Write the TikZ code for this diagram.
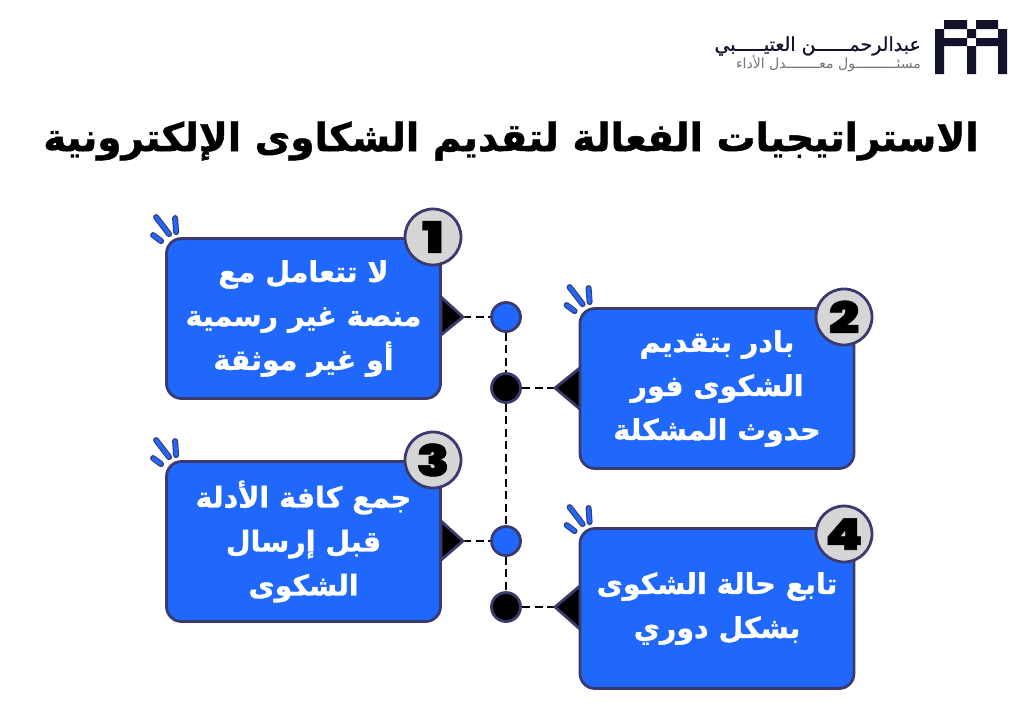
\documentclass[tikz,border=0pt]{standalone}
\usepackage{fontspec}
\usetikzlibrary{calc}
\TeXXeTstate=1
\newfontfamily\arfont[Script=Arabic]{DejaVu Sans}
\newfontfamily\arbold[Script=Arabic,FakeBold=1.2]{DejaVu Sans Bold}
\newfontfamily\arname[Script=Arabic,FakeBold=0.8]{DejaVu Sans}
\newfontfamily\numfont[FakeBold=1.2]{Poppins Black}
\newcommand{\AR}[1]{\beginR #1\endR}
\newcommand{\NUM}[1]{\scalebox{1.28}[1.04]{#1}}
\definecolor{edge}{HTML}{3B3A6E}
\definecolor{fillblue}{HTML}{1F68FB}
\definecolor{badge}{HTML}{D6D6D6}
\definecolor{ink}{HTML}{12122B}
\tikzset{
 card/.style={draw=edge,line width=2.8pt,fill=fillblue,rounded corners=15pt,minimum width=274pt,minimum height=160pt,inner sep=0pt,align=center,text=white,font=\arbold\fontsize{28.5}{44}\selectfont},
 badgenode/.style={circle,draw=edge,line width=2.8pt,fill=badge,minimum size=56pt,inner sep=0pt,text=black,font=\numfont\fontsize{42}{42}\selectfont},
 bluedot/.style={circle,draw=edge,line width=2.8pt,fill=fillblue,minimum size=29pt,inner sep=0pt},
 blackdot/.style={circle,draw=edge,line width=2.8pt,fill=black,minimum size=29pt,inner sep=0pt},
 link/.style={draw=black,line width=2.8pt,dash pattern=on 8pt off 4.5pt},
 tri/.style={draw=edge,line width=2.8pt,fill=black,line join=miter},
 rayout/.style={line width=6pt,draw=edge,line cap=round},
 rayin/.style={line width=3.8pt,draw=fillblue,line cap=round},
 logo/.style={fill=ink,draw=none},
}
\newcommand{\rays}[1]{%
 \foreach \a/\b in {{-9,-20}/{4,-3},{10,-19}/{11,-5},{-12,-2}/{-4,4}}{%
  \draw[rayout] ($(#1.north west)+(\a)$) -- ($(#1.north west)+(\b)$);
  \draw[rayin] ($(#1.north west)+(\a)$) -- ($(#1.north west)+(\b)$);}}
\begin{document}
\begin{tikzpicture}[x=1pt,y=-1pt]
\useasboundingbox (0,0) rectangle (1024,724);
% logo
\fill[logo] (944,20) rectangle (967,29) (976,20) rectangle (998,29)
 (935,29) rectangle (944,74) (998,29) rectangle (1007,74)
 (944,38) rectangle (967,46) (976,38) rectangle (998,46)
 (967,29) rectangle (976,38) (967,46) rectangle (976,74);
\node[anchor=east,inner sep=0pt,text=ink] (brandname) at (921,46) {\arname\fontsize{19}{19}\selectfont\AR{عبدالرحمــــــن العتيـــــبي}};
\node[anchor=east,inner sep=0pt,text=black!55] (brandrole) at (921,64) {\arfont\fontsize{14}{14}\selectfont\AR{مسئــــــــــول معــــــــدل الأداء}};
% title
\node[inner sep=0pt,text=black,font=\arbold\fontsize{38.9}{42}\selectfont] (title) at (511,141) {\AR{الاستراتيجيات الفعالة لتقديم الشكاوى الإلكترونية}};
% connector dots
\node[bluedot] (d1) at (506,317) {};
\node[blackdot] (d2) at (506,388) {};
\node[bluedot] (d3) at (506,541) {};
\node[blackdot] (d4) at (506,607) {};
\coordinate (tip1) at (463,317);
\coordinate (tip2) at (555,388);
\coordinate (tip3) at (463,541);
\coordinate (tip4) at (555,607);
\draw[link] (d1) -- (d2);
\draw[link] (d2) -- (d3);
\draw[link] (d3) -- (d4);
\draw[link] (tip1) -- (d1);
\draw[link] (tip2) -- (d2);
\draw[link] (tip3) -- (d3);
\draw[link] (tip4) -- (d4);
% triangles
\draw[tri] (441,297) -- (tip1) -- (441,335) -- cycle;
\draw[tri] (581,367) -- (tip2) -- (581,410) -- cycle;
\draw[tri] (441,521) -- (tip3) -- (441,560) -- cycle;
\draw[tri] (581,585) -- (tip4) -- (581,630) -- cycle;
% cards
\node[card] (c1) at (303.5,318.5) {\AR{لا تتعامل مع}\\\AR{منصة غير رسمية}\\\AR{أو غير موثقة}};
\node[card] (c2) at (717,388.5) {\AR{بادر بتقديم}\\\AR{الشكوى فور}\\\AR{حدوث المشكلة}};
\node[card] (c3) at (303.5,541.5) {\AR{جمع كافة الأدلة}\\\AR{قبل إرسال}\\\AR{الشكوى}};
\node[card] (c4) at (717,608.5) {\AR{تابع حالة الشكوى}\\\AR{بشكل دوري}};
\rays{c1}\rays{c2}\rays{c3}\rays{c4}
% badges
\node[badgenode] (b1) at (433,237) {\NUM{1}};
\node[badgenode] (b2) at (844,317) {\NUM{2}};
\node[badgenode] (b3) at (433,460) {\NUM{3}};
\node[badgenode] (b4) at (844,534) {\NUM{4}};
\end{tikzpicture}
\end{document}
